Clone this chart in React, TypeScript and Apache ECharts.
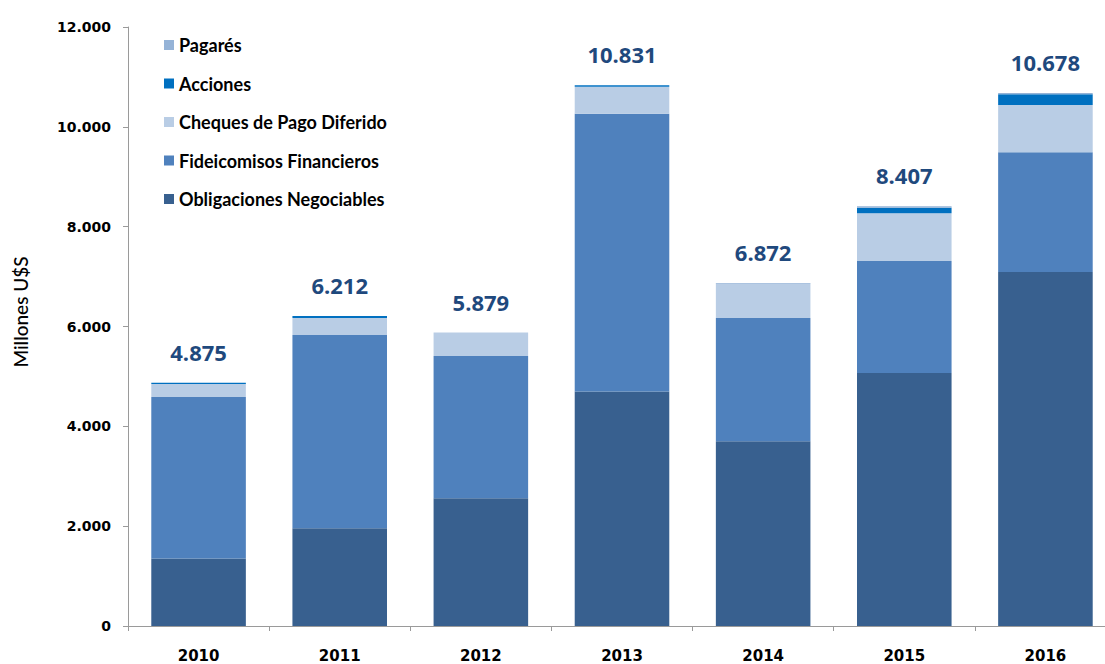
import React, { useEffect, useRef } from "react";
import * as echarts from "echarts";

const years = ["2010", "2011", "2012", "2013", "2014", "2015", "2016"];
const obligaciones = [1350, 1960, 2560, 4700, 3700, 5070, 7090];
const fideicomisos = [3240, 3870, 2850, 5560, 2470, 2240, 2400];
const cheques = [260, 340, 469, 541, 687, 957, 945];
const acciones = [25, 42, 0, 30, 0, 110, 218];
const pagares = [0, 0, 0, 0, 15, 30, 25];
const totals = [4875, 6212, 5879, 10831, 6872, 8407, 10678];
const yTicks = [0, 2000, 4000, 6000, 8000, 10000, 12000];

const fmt = (v: number) => String(v).replace(/\B(?=(\d{3})+(?!\d))/g, ".");

export default function App() {
  const ref = useRef<HTMLDivElement>(null);
  useEffect(() => {
    if (!ref.current) return;
    const chart = echarts.init(ref.current, null, { renderer: "svg" });
    const mk = (name: string, data: number[], color: string) => ({
      name,
      type: "bar",
      stack: "total",
      data,
      barWidth: "67%",
      itemStyle: { color },
    });
    chart.setOption({
      animation: false,
      backgroundColor: "#ffffff",
      grid: { left: 128, top: 27, bottom: 38, width: 988 },
      legend: {
        orient: "vertical",
        left: 164,
        top: 36,
        padding: 0,
        itemWidth: 10,
        itemHeight: 10,
        itemGap: 20.5,
        icon: "rect",
        data: [
          "Pagarés",
          "Acciones",
          "Cheques de Pago Diferido",
          "Fideicomisos Financieros",
          "Obligaciones Negociables",
        ],
        textStyle: {
          fontFamily: "Lato",
          fontWeight: "bold",
          fontSize: 18,
          lineHeight: 18,
          color: "#000",
          padding: [0, 0, 0, 0],
        },
      },
      xAxis: {
        type: "category",
        data: years,
        axisLine: { lineStyle: { color: "#9a9a9a" } },
        axisTick: { show: true, length: 5, lineStyle: { color: "#9a9a9a" } },
        axisLabel: {
          fontFamily: "DejaVu Sans",
          fontWeight: "bold",
          fontSize: 15,
          color: "#000",
          margin: 22,
        },
      },
      yAxis: {
        type: "value",
        min: 0,
        max: yTicks[yTicks.length - 1],
        interval: 2000,
        splitLine: { show: false },
        axisLine: { show: true, lineStyle: { color: "#9a9a9a" } },
        axisTick: { show: true, length: 5, lineStyle: { color: "#9a9a9a" } },
        axisLabel: {
          fontFamily: "DejaVu Sans",
          fontWeight: "bold",
          fontSize: 14,
          color: "#000",
          margin: 17,
          formatter: (v: number) => fmt(v),
        },
      },
      graphic: [
        {
          type: "text",
          x: 20,
          y: 312,
          rotation: Math.PI / 2,
          style: {
            text: "Millones U$S",
            fontFamily: "Lato",
            fontWeight: 500,
            fontSize: 19,
            fill: "#000",
            textAlign: "center",
            textVerticalAlign: "middle",
          },
        },
      ],
      series: [
        mk("Obligaciones Negociables", obligaciones, "#38608F"),
        mk("Fideicomisos Financieros", fideicomisos, "#4F81BD"),
        mk("Cheques de Pago Diferido", cheques, "#B9CDE5"),
        mk("Acciones", acciones, "#0070C0"),
        mk("Pagarés", pagares, "#95B3D7"),
        {
          name: "Total",
          type: "scatter",
          data: totals,
          symbolSize: 0,
          silent: true,
          itemStyle: { opacity: 1 },
          label: {
            show: true,
            position: "top",
            distance: 20,
            formatter: (p: any) => fmt(p.value),
            fontFamily: "Open Sans",
            fontWeight: "bold",
            fontSize: 22,
            color: "#1F497D",
          },
        },
      ],
    });
    return () => chart.dispose();
  }, []);
  return (
    <div style={{ width: 1105, height: 664, position: "absolute", left: 0, top: 0, overflow: "hidden" }}>
      <div ref={ref} style={{ width: 1130, height: 664 }} />
    </div>
  );
}
